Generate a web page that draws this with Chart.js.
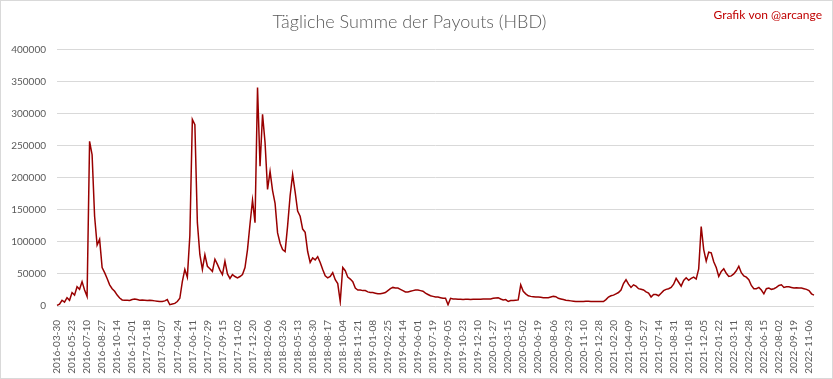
<!DOCTYPE html>
<html>
<head>
<meta charset="utf-8">
<script src="https://cdn.jsdelivr.net/npm/chart.js@4.4.0/dist/chart.umd.min.js"></script>
<style>
  body { margin: 0; background: #fff; }
  #wrap { width: 833px; height: 379px; box-sizing: border-box; border: 1px solid #d9d9d9; }
</style>
</head>
<body>
<div id="wrap"><canvas id="myChart" width="831" height="377"></canvas></div>
<script>
// tick labels on the x axis, one every 6 samples (48 days)
const tickDates = [
  '2016-03-30', '2016-05-23', '2016-07-10', '2016-08-27', '2016-10-14', '2016-12-01',
  '2017-01-18', '2017-03-07', '2017-04-24', '2017-06-11', '2017-07-29', '2017-09-15',
  '2017-11-02', '2017-12-20', '2018-02-06', '2018-03-26', '2018-05-13', '2018-06-30',
  '2018-08-17', '2018-10-04', '2018-11-21', '2019-01-08', '2019-02-25', '2019-04-14',
  '2019-06-01', '2019-07-19', '2019-09-05', '2019-10-23', '2019-12-10', '2020-01-27',
  '2020-03-15', '2020-05-02', '2020-06-19', '2020-08-06', '2020-09-23', '2020-11-10',
  '2020-12-28', '2021-02-20', '2021-04-09', '2021-05-27', '2021-07-14', '2021-08-31',
  '2021-10-18', '2021-12-05', '2022-01-22', '2022-03-11', '2022-04-28', '2022-06-15',
  '2022-08-02', '2022-09-19', '2022-11-06'
];

// daily payout sum (HBD), every 8 days
const payouts = [
  1000, 3000, 9000, 6000, 13000, 9000, 21000, 17000, 30000, 26000, 38000, 25000,
  15000, 257000, 236000, 140000, 95000, 104000, 60000, 52000, 43000, 33000, 27000, 23000,
  17000, 12500, 9500, 9000, 9000, 8500, 10000, 11000, 10000, 9000, 9500, 9000,
  8500, 9000, 8500, 8000, 7500, 7000, 7000, 8000, 10000, 2000, 3000, 4000,
  7000, 12000, 38000, 57000, 45000, 110000, 291000, 283000, 130000, 80000, 57000, 80000,
  62000, 58000, 54000, 73000, 65000, 56000, 49000, 70000, 50000, 43000, 49000, 46000,
  44000, 46000, 49000, 60000, 88000, 128000, 165000, 130000, 341000, 218000, 299000, 255000,
  182000, 210000, 180000, 160000, 114000, 98000, 88000, 85000, 125000, 172000, 205000, 178000,
  148000, 140000, 120000, 115000, 85000, 68000, 75000, 72000, 77000, 68000, 57000, 47000,
  44000, 46000, 52000, 41000, 35000, 7000, 60000, 55000, 45000, 42000, 38000, 28000,
  25000, 25000, 24000, 24000, 22000, 21000, 21000, 20000, 19000, 19000, 20000, 21000,
  24000, 27000, 29000, 28000, 28000, 26000, 24000, 22000, 22000, 23000, 24000, 25000,
  25000, 24000, 23000, 20000, 18000, 16000, 15000, 14000, 14000, 13000, 12000, 12000,
  2000, 12000, 11000, 11000, 10500, 10500, 10000, 10500, 10500, 10000, 10500, 10500,
  10500, 10500, 11000, 11000, 11000, 11000, 12000, 12500, 13000, 11000, 9500, 10000,
  7000, 8500, 8500, 9000, 9500, 33000, 23000, 19000, 16000, 15000, 14500, 14000,
  14000, 13500, 13000, 13000, 13000, 14000, 15000, 14500, 12000, 11000, 10000, 9000,
  8500, 8000, 7500, 7000, 7000, 7000, 7000, 7500, 7500, 7000, 7000, 7000,
  7000, 7000, 7000, 10000, 14000, 16000, 17000, 19000, 21000, 25000, 35000, 41000,
  34000, 29000, 33000, 31000, 27000, 26000, 25000, 22000, 20000, 14000, 18000, 18000,
  16000, 20000, 24000, 26000, 27000, 29000, 34000, 43000, 37000, 31000, 40000, 44000,
  40000, 43000, 45000, 42000, 58000, 124000, 88000, 70000, 84000, 83000, 69000, 60000,
  46000, 54000, 58000, 51000, 46000, 47000, 50000, 55000, 62000, 52000, 47000, 45000,
  41000, 32000, 27000, 27000, 29000, 25000, 19000, 27000, 28000, 26000, 27000, 29000,
  32000, 33000, 29000, 30000, 30000, 29000, 28000, 28500, 28000, 28000, 27000, 26000,
  24000, 19000, 17000
];

const yTicks = [0, 50000, 100000, 150000, 200000, 250000, 300000, 350000, 400000];

// one label per tick date, blanks for the samples in between
const labels = tickDates.flatMap(function(d) {
  return [d, '', '', '', '', ''];
}).slice(0, payouts.length);

const creditPlugin = {
  id: 'credit',
  afterDraw: function(chart) {
    const ctx = chart.ctx;
    ctx.save();
    ctx.font = '12px Lato';
    ctx.fillStyle = '#c00000';
    ctx.textAlign = 'right';
    ctx.textBaseline = 'middle';
    ctx.fillText('Grafik von @arcange', 821, 14);
    ctx.restore();
  }
};

const ctx = document.getElementById('myChart');
new Chart(ctx, {
  type: 'line',
  data: {
    labels: labels,
    datasets: [{
      data: payouts,
      borderColor: '#990000',
      borderWidth: 1.5,
      pointRadius: 0,
      tension: 0,
      fill: false
    }]
  },
  options: {
    responsive: false,
    animation: false,
    layout: { padding: { left: 0, right: 14, top: 0, bottom: 0 } },
    plugins: {
      legend: { display: false },
      tooltip: { enabled: false },
      title: {
        display: true,
        text: 'Tägliche Summe der Payouts (HBD)',
        color: '#595959',
        font: { family: 'Lato', size: 18, weight: 300 },
        padding: { top: 10, bottom: 17 }
      }
    },
    scales: {
      x: {
        grid: { display: false },
        border: { display: false },
        ticks: {
          autoSkip: false,
          minRotation: 90,
          maxRotation: 90,
          padding: 6,
          color: '#595959',
          font: { family: 'Lato', size: 10 }
        },
        afterFit: function(scale) { scale.height = 72; }
      },
      y: {
        min: 0,
        max: 400000,
        afterBuildTicks: function(scale) {
          scale.ticks = yTicks.map(function(v) { return { value: v }; });
        },
        grid: { color: '#d9d9d9', drawTicks: false },
        border: { display: false },
        ticks: {
          padding: 11,
          color: '#595959',
          font: { family: 'Lato', size: 10 },
          callback: function(value) { return String(value); }
        },
        afterFit: function(scale) { scale.width = 56; }
      }
    }
  },
  plugins: [creditPlugin]
});
</script>
</body>
</html>
